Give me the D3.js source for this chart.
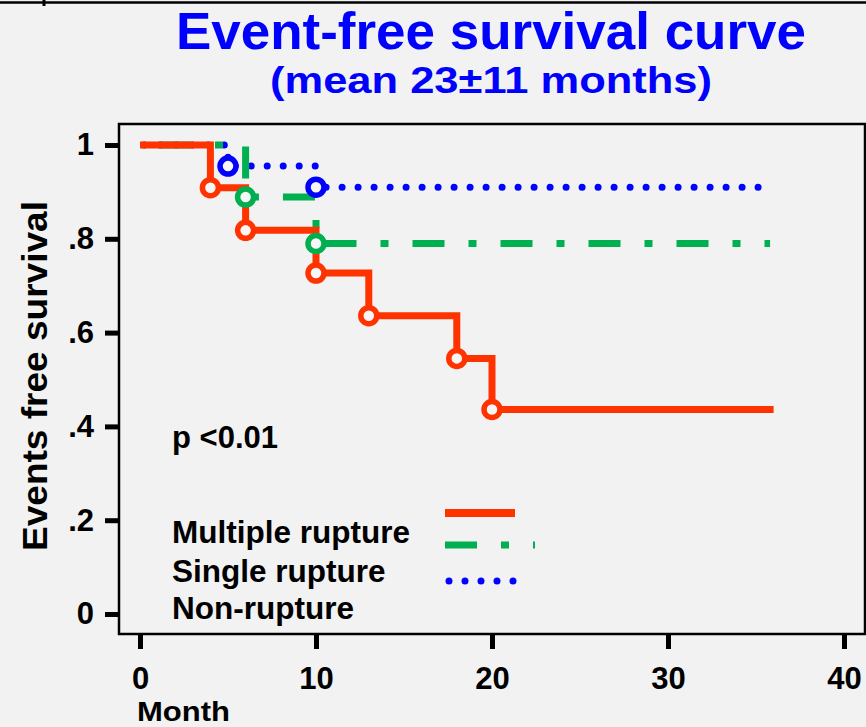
<!DOCTYPE html>
<html>
<head>
<meta charset="utf-8">
<title>Event-free survival curve</title>
<style>
body { margin: 0; background: #f2f2f2; }
text { font-family: "Liberation Sans", Arial, sans-serif; font-weight: bold; }
.axis text { font-size: 31px; fill: #000; }
.axis line { stroke: #000; stroke-width: 5px; }
</style>
</head>
<body>
<script src="https://cdn.jsdelivr.net/npm/d3@7"></script>
<script>

// values
var monthTicks = [0, 10, 20, 30, 40];
var survTicks = [0, 0.2, 0.4, 0.6, 0.8, 1];
var survTickLabels = ["0", ".2", ".4", ".6", ".8", "1"];

var multipleMonths = [0, 4, 6, 10, 13, 18, 20, 36];
var multipleSurv = [1, 0.909, 0.818, 0.727, 0.636, 0.545, 0.436, 0.436];

var singleMonths = [0, 6, 10, 35.8];
var singleSurv = [1, 0.889, 0.790, 0.790];

var nonMonths = [0, 5, 10, 35.2];
var nonSurv = [1, 0.955, 0.910, 0.910];

var legendNames = ["Multiple rupture", "Single rupture", "Non-rupture"];

var width = 866,
    height = 727;

var svg = d3.select("body").append("svg")
    .attr("width", width)
    .attr("height", height);

svg.append("rect")
    .attr("width", width)
    .attr("height", height)
    .attr("fill", "#f2f2f2");

// frame line at the very top
svg.append("line")
    .attr("x1", 0).attr("x2", width)
    .attr("y1", 2.5).attr("y2", 2.5)
    .attr("stroke", "#000").attr("stroke-width", 2.5);
svg.append("line")
    .attr("x1", 44).attr("x2", 44)
    .attr("y1", 0).attr("y2", 6)
    .attr("stroke", "#000").attr("stroke-width", 3);

var x = d3.scaleLinear().domain([0, 40]).range([140, 844]);
var y = d3.scaleLinear().domain([0, 1]).range([614, 145]);

// plot box
svg.append("rect")
    .attr("x", 119).attr("y", 124)
    .attr("width", 746).attr("height", 510)
    .attr("fill", "#f2f2f2")
    .attr("stroke", "#000")
    .attr("stroke-width", 2.5);

// titles
svg.append("text")
    .attr("x", 491).attr("y", 48.5)
    .attr("text-anchor", "middle")
    .attr("textLength", 630)
    .attr("lengthAdjust", "spacingAndGlyphs")
    .style("font-size", "52px")
    .attr("fill", "#0000ff")
    .text("Event-free survival curve");

svg.append("text")
    .attr("x", 491).attr("y", 92.5)
    .attr("text-anchor", "middle")
    .attr("textLength", 442)
    .attr("lengthAdjust", "spacingAndGlyphs")
    .style("font-size", "36px")
    .attr("fill", "#0000ff")
    .text("(mean 23\u00b111 months)");

// axes
var xAxis = svg.append("g")
    .attr("class", "axis")
    .attr("transform", "translate(0,634)")
    .call(d3.axisBottom(x).tickValues(monthTicks).tickSize(15).tickPadding(18));
xAxis.select(".domain").remove();

var yAxis = svg.append("g")
    .attr("class", "axis")
    .attr("transform", "translate(119,0)")
    .call(d3.axisLeft(y).tickValues(survTicks)
        .tickFormat(function(d, i) { return survTickLabels[i]; })
        .tickSize(14).tickPadding(11));
yAxis.select(".domain").remove();

svg.append("text")
    .attr("x", 137).attr("y", 721)
    .attr("textLength", 93)
    .attr("lengthAdjust", "spacingAndGlyphs")
    .style("font-size", "28px")
    .text("Month");

svg.append("text")
    .attr("transform", "translate(47,376) rotate(-90)")
    .attr("text-anchor", "middle")
    .attr("textLength", 350)
    .attr("lengthAdjust", "spacingAndGlyphs")
    .style("font-size", "35px")
    .text("Events free survival");

svg.append("text")
    .attr("x", 172).attr("y", 448)
    .style("font-size", "31px")
    .text("p <0.01");

// survival curves
var line = d3.line()
    .x(function(d) { return x(d[0]); })
    .y(function(d) { return y(d[1]); })
    .curve(d3.curveStepAfter);

var series = [
  {months: multipleMonths, surv: multipleSurv, color: "#ff3300", dash: null, offset: 0, cap: "butt"},
  {months: singleMonths, surv: singleSurv, color: "#00b050", dash: "32,24,8,24", offset: 69, cap: "butt"},
  {months: nonMonths, surv: nonSurv, color: "#0000ff", dash: "0,16", offset: 11.7, cap: "round"}
];

series.forEach(function(s) {
  s.points = d3.zip(s.months, s.surv);
});

// red drawn last so it covers the shared start at 1
series.slice().reverse().forEach(function(s) {
  svg.append("path")
      .datum(s.points)
      .attr("d", line)
      .attr("fill", "none")
      .attr("stroke", s.color)
      .attr("stroke-width", 7)
      .attr("stroke-dasharray", s.dash)
      .attr("stroke-dashoffset", s.offset)
      .attr("stroke-linecap", s.cap);
});

series.forEach(function(s) {
  svg.append("g").selectAll("circle")
      .data(s.points.slice(1, -1))
      .enter().append("circle")
      .attr("cx", function(d) { return x(d[0]); })
      .attr("cy", function(d) { return y(d[1]); })
      .attr("r", 8)
      .attr("fill", "#f6f6f6")
      .attr("stroke", s.color)
      .attr("stroke-width", 5.5);
});

// legend
var legendY = [543, 582, 619];
var legendLineY = [513, 545, 581];
var legendLineX = [[445, 515], [445, 535], [449, 514]];

svg.append("g").selectAll("text")
    .data(legendNames)
    .enter().append("text")
    .attr("x", 172)
    .attr("y", function(d, i) { return legendY[i]; })
    .style("font-size", "31.5px")
    .text(function(d) { return d; });

series.forEach(function(s, i) {
  svg.append("line")
      .attr("x1", legendLineX[i][0]).attr("x2", legendLineX[i][1])
      .attr("y1", legendLineY[i]).attr("y2", legendLineY[i])
      .attr("stroke", s.color)
      .attr("stroke-width", i == 0 ? 8 : 7)
      .attr("stroke-dasharray", s.dash)
      .attr("stroke-linecap", s.cap);
});

</script>
</body>
</html>
